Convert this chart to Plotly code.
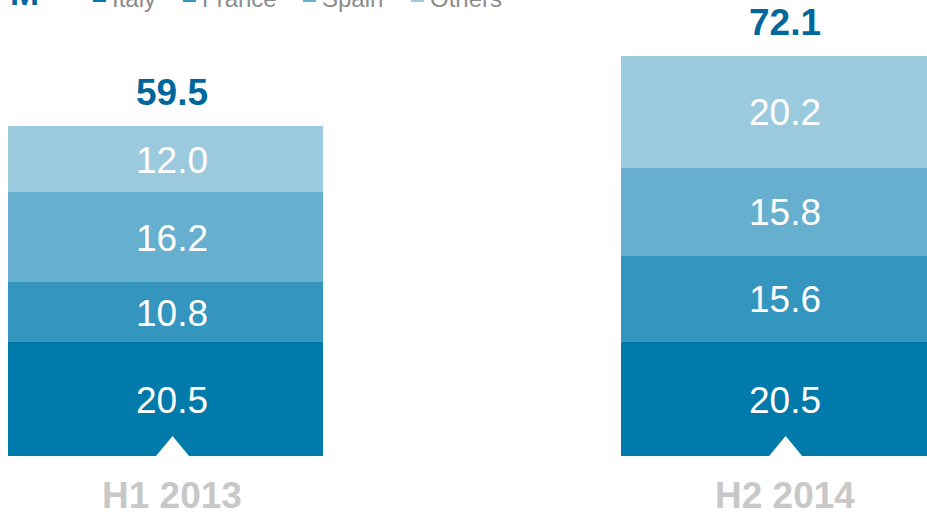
import plotly.graph_objects as go

periods = ["H1 2013", "H2 2014"]
series = ["Italy", "France", "Spain", "Others"]
italy = [20.5, 20.5]
france = [10.8, 15.6]
spain = [16.2, 15.8]
others = [12.0, 20.2]
totals = [59.5, 72.1]
unit_label = "M"

colors = ["#0079AB", "#3495BE", "#67AFCE", "#9BC9DD"]
values = [italy, france, spain, others]

W, H = 927, 512
FONT = "Arial, Liberation Sans, sans-serif"

fig = go.Figure()
for name, vals, col in zip(series, values, colors):
    fig.add_trace(go.Bar(
        x=periods, y=vals, name=name, width=0.514,
        marker=dict(color=col, line=dict(width=0)),
        showlegend=False, hoverinfo="skip",
    ))

annotations = []
shapes = []
XS = 6  # label offset in px

for i, p in enumerate(periods):
    base = 0.0
    for vals in values:
        v = vals[i]
        annotations.append(dict(
            x=p, y=base + v / 2, xref="x", yref="y", text=f"{v:.1f}",
            showarrow=False, xshift=XS, yshift=-1,
            font=dict(family=FONT, size=37, color="white"),
        ))
        base += v
    annotations.append(dict(
        x=p, y=totals[i], xref="x", yref="y", text=f"<b>{totals[i]:.1f}</b>",
        showarrow=False, xshift=XS, yshift=33, yanchor="middle",
        font=dict(family=FONT, size=37, color="#00679A"),
    ))
    annotations.append(dict(
        x=p, y=0, xref="x", yref="y", text=f"<b>{p}</b>",
        showarrow=False, xshift=XS, yshift=-39, yanchor="middle",
        font=dict(family=FONT, size=37, color="#C8C8C8"),
    ))
    shapes.append(dict(
        type="path", xref="x", yref="y", xsizemode="pixel", ysizemode="pixel",
        xanchor=i, yanchor=0,
        path="M -12,-3 L 7,20 L 26,-3 Z",
        fillcolor="white", line=dict(width=0), layer="above",
    ))

annotations.append(dict(
    x=8 / W, y=1, xref="paper", yref="paper", xanchor="left", yanchor="bottom",
    text=f"<b>{unit_label}</b>", showarrow=False, yshift=-14,
    font=dict(family=FONT, size=35, color="#00679A"),
))
leg_text_x = [110, 200, 320, 428]
for name, col, tx in zip(series, colors, leg_text_x):
    annotations.append(dict(
        x=tx / W, y=1, xref="paper", yref="paper", xanchor="left", yanchor="bottom",
        text=name, showarrow=False, yshift=-14,
        font=dict(family=FONT, size=24, color="#8C8C8C"),
    ))
    shapes.append(dict(
        type="rect", xref="paper", yref="paper",
        x0=(tx - 17) / W, x1=(tx - 4) / W, y0=1 - 2 / H, y1=1 + 12 / H,
        fillcolor=col, line=dict(width=0), layer="above",
    ))

fig.update_layout(
    width=W, height=H,
    margin=dict(l=0, r=0, t=0, b=0),
    barmode="stack", bargap=0,
    paper_bgcolor="white", plot_bgcolor="white",
    xaxis=dict(visible=False, range=[-0.27, 1.242], type="category", categoryorder="array", categoryarray=periods),
    yaxis=dict(visible=False, range=[-10.09, 82.16]),
    annotations=annotations, shapes=shapes,
    showlegend=False,
)

fig.write_html("out.html")
